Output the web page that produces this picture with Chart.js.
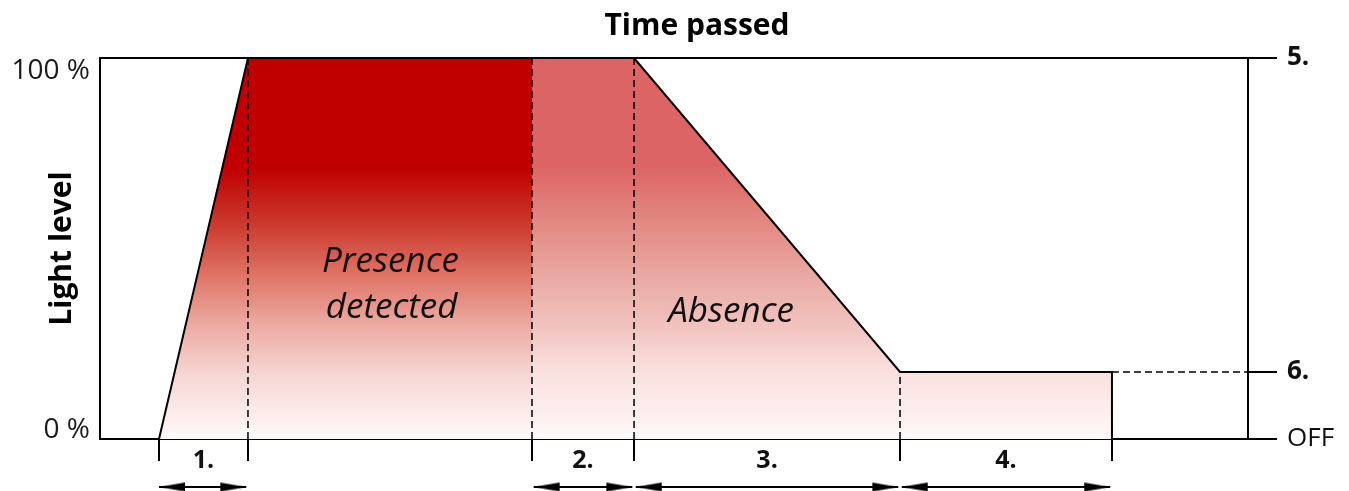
<!DOCTYPE html>
<html>
<head>
<meta charset="utf-8">
<script src="https://cdn.jsdelivr.net/npm/chart.js@4/dist/chart.umd.min.js"></script>
<style>
  html, body { margin: 0; padding: 0; background: #fff; overflow: hidden; }
  #c { display: block; width: 1349px; height: 491px; }
</style>
</head>
<body>
<canvas id="c" width="1349" height="491"></canvas>
<script>
// ---------- DATA (time on a 0–100 axis, light level in %) ----------
const phaseBounds   = [5.14, 12.89, 37.63, 46.52, 69.69, 88.15];
const phaseLabels   = ['1.', '2.', '3.', '4.'];
const phaseFrom     = [0, 2, 3, 4];   // index into phaseBounds
const phaseTo       = [1, 3, 4, 5];

const profileTime   = [5.14, 12.89, 46.52, 69.69, 88.15, 88.15];
const profileLevel  = [0, 100, 100, 17.6, 17.6, 0];

const presenceTime  = [5.14, 12.89, 37.63];
const presenceLevel = [0, 100, 100];

const absenceTime   = [37.63, 46.52, 69.69, 88.15, 88.15];
const absenceLevel  = [100, 100, 17.6, 17.6, 0];

const leftTickValues  = [0, 100];
const leftTickLabels  = ['0 %', '100 %'];
const rightTickValues = [0, 17.6, 100];
const rightTickLabels = ['OFF', '6.', '5.'];

const dashTime   = [12.89, 37.63, 46.52, 69.69];
const dashTop    = [100, 100, 100, 17.6];
const standbyLevel = 17.6;

const noteTexts  = ['Presence', 'detected', 'Absence'];
const noteTimes  = [25.3, 25.4, 54.97];
const noteLevels = [43.8, 31.8, 30.7];

const titleText = 'Time passed';
const titleTime = 52.0;
const yTitle = 'Light level';

// ---------- helpers ----------
const FONT = "'Open Sans', 'DejaVu Sans', sans-serif";
const ARROW_LEVEL = -12.6;  // below the axis
const ARROW_GAP = 0.15;

const pts = (xs, ys) => xs.map((x, i) => ({ x, y: ys[i] }));

function gradient(stops) {
  return (c) => {
    const a = c.chart.chartArea;
    if (!a) return 'rgba(0,0,0,0)';
    const g = c.chart.ctx.createLinearGradient(0, a.top, 0, a.bottom);
    stops.forEach(([o, col]) => g.addColorStop(o, col));
    return g;
  };
}
const darkStops = [[0, '#c00000'], [0.29, '#c00000'], [0.44, '#cb3b2f'], [0.57, '#df7466'],
                   [0.70, '#ecaaa2'], [0.83, '#f6d6d3'], [1, '#fefafa']];
const lightStops = [[0, '#dc6464'], [0.28, '#dc6464'], [0.44, '#e38a83'], [0.57, '#e9a8a2'],
                    [0.70, '#f1c2be'], [0.82, '#f9e0dd'], [1, '#fef8f8']];

// arrowhead sprite: tip at the sprite's centre, pointing right
const head = document.createElement('canvas');
head.width = 58; head.height = 11;
(function () {
  const g = head.getContext('2d');
  g.fillStyle = '#000';
  g.beginPath();
  g.moveTo(29, 5.5);
  g.lineTo(3, 1);
  g.lineTo(3, 10);
  g.closePath();
  g.fill();
})();

// ---------- datasets ----------
const datasets = [];
datasets.push({ data: pts(presenceTime, presenceLevel), fill: 'origin', borderWidth: 0,
  backgroundColor: gradient(darkStops), pointRadius: 0, order: 20 });
datasets.push({ data: pts(absenceTime, absenceLevel), fill: 'origin', borderWidth: 0,
  backgroundColor: gradient(lightStops), pointRadius: 0, order: 20 });

dashTime.forEach((t, i) => {
  datasets.push({ data: [{ x: t, y: 0 }, { x: t, y: dashTop[i] }], borderColor: '#000',
    borderWidth: 1.5, borderDash: [7, 4], pointRadius: 0, fill: false, order: 5 });
});
datasets.push({ data: [{ x: phaseBounds[5], y: standbyLevel }, { x: 100, y: standbyLevel }],
  borderColor: '#000', borderWidth: 1.5, borderDash: [7, 4], pointRadius: 0, fill: false, order: 5 });

datasets.push({ data: pts(profileTime, profileLevel), borderColor: '#000', borderWidth: 2,
  pointRadius: 0, fill: false, order: 2 });

phaseLabels.forEach((_, i) => {
  const a = phaseBounds[phaseFrom[i]] + (i === 0 ? 0 : ARROW_GAP);
  const b = phaseBounds[phaseTo[i]] - ARROW_GAP;
  datasets.push({ data: [{ x: a, y: ARROW_LEVEL }, { x: b, y: ARROW_LEVEL }], clip: false,
    borderColor: '#000', borderWidth: 2, fill: false, order: 1,
    pointStyle: head, pointRadius: 60, pointBorderWidth: 0,
    pointRotation: (c) => (c.dataIndex === 0 ? 180 : 0) });
});

// ---------- ticks for bottom axis ----------
const mids = phaseLabels.map((_, i) => (phaseBounds[phaseFrom[i]] + phaseBounds[phaseTo[i]]) / 2);
const isBound = (v) => phaseBounds.some((b) => Math.abs(b - v) < 1e-6);

// ---------- annotation texts ----------
const notesPlugin = {
  id: 'notes',
  afterDatasetsDraw(chart) {
    const { ctx, scales } = chart;
    ctx.save();
    ctx.fillStyle = '#111';
    ctx.font = 'italic 35px ' + FONT;
    ctx.textAlign = 'center';
    ctx.textBaseline = 'alphabetic';
    noteTexts.forEach((t, i) => {
      ctx.fillText(t, scales.x.getPixelForValue(noteTimes[i]), scales.y.getPixelForValue(noteLevels[i]));
    });
    ctx.restore();
  }
};

new Chart(document.getElementById('c'), {
  type: 'line',
  data: { datasets },
  plugins: [notesPlugin],
  options: {
    responsive: false,
    maintainAspectRatio: false,
    animation: false,
    events: [],
    devicePixelRatio: 1,
    layout: { padding: 0, autoPadding: false },
    plugins: { legend: { display: false }, tooltip: { enabled: false } },
    elements: { line: { tension: 0 } },
    scales: {
      x: {
        type: 'linear', position: 'bottom', min: 0, max: 100, z: 1,
        afterBuildTicks: (s) => {
          s.ticks = phaseBounds.concat(mids).sort((a, b) => a - b).map((v) => ({ value: v }));
        },
        afterFit: (s) => { s.height = 52; },
        border: { display: true, color: '#000', width: 2 },
        grid: { display: true, drawOnChartArea: false, drawTicks: true, tickLength: 22, lineWidth: 2,
          color: (c) => (c.tick && isBound(c.tick.value) ? '#000' : 'rgba(0,0,0,0)') },
        ticks: {
          autoSkip: false, maxRotation: 0, padding: -13, color: '#111',
          font: { family: FONT, size: 25, weight: 'bold', lineHeight: 1 },
          callback: (v) => { const i = mids.findIndex((m) => Math.abs(m - v) < 1e-6); return i >= 0 ? phaseLabels[i] : ''; }
        }
      },
      x2: {
        type: 'linear', position: 'top', min: 0, max: 100, z: 1,
        afterBuildTicks: (s) => { s.ticks = [{ value: titleTime }]; },
        afterFit: (s) => { s.height = 58; },
        border: { display: true, color: '#000', width: 2 },
        grid: { display: false, drawTicks: false },
        ticks: { autoSkip: false, maxRotation: 0, padding: 14, color: '#000',
          font: { family: FONT, size: 30, weight: 'bold' }, callback: () => titleText }
      },
      y: {
        type: 'linear', position: 'left', min: 0, max: 100, z: 1,
        afterBuildTicks: (s) => { s.ticks = leftTickValues.map((v) => ({ value: v })); },
        afterFit: (s) => { s.width = 100; },
        border: { display: true, color: '#000', width: 2 },
        grid: { display: false, drawTicks: false },
        title: { display: true, text: yTitle, color: '#000', padding: { top: 44, bottom: 0 },
          font: { family: FONT, size: 30, weight: 'bold', lineHeight: 1.2 } },
        ticks: {
          padding: 10, color: '#1a1a1a',
          font: (c) => ({ family: FONT, size: 28, lineHeight: (c.tick && c.tick.value === 100) ? '26px' : '18px' }),
          callback: (v) => {
            const lbl = leftTickLabels[leftTickValues.indexOf(v)];
            return v === 100 ? ['', lbl] : [lbl, ''];
          }
        }
      },
      yR: {
        type: 'linear', position: 'right', min: 0, max: 100, z: 1,
        afterBuildTicks: (s) => { s.ticks = rightTickValues.map((v) => ({ value: v })); },
        afterFit: (s) => { s.width = 101; },
        border: { display: true, color: '#000', width: 2 },
        grid: { display: true, drawOnChartArea: false, drawTicks: true, tickLength: 29, lineWidth: 2, color: '#000' },
        ticks: {
          padding: 10, color: '#111',
          font: (c) => ({ family: FONT, size: 26, weight: (c.tick && c.tick.value === 0) ? 'normal' : 'bold' }),
          callback: (v) => rightTickLabels[rightTickValues.indexOf(v)]
        }
      }
    }
  }
});
</script>
</body>
</html>
